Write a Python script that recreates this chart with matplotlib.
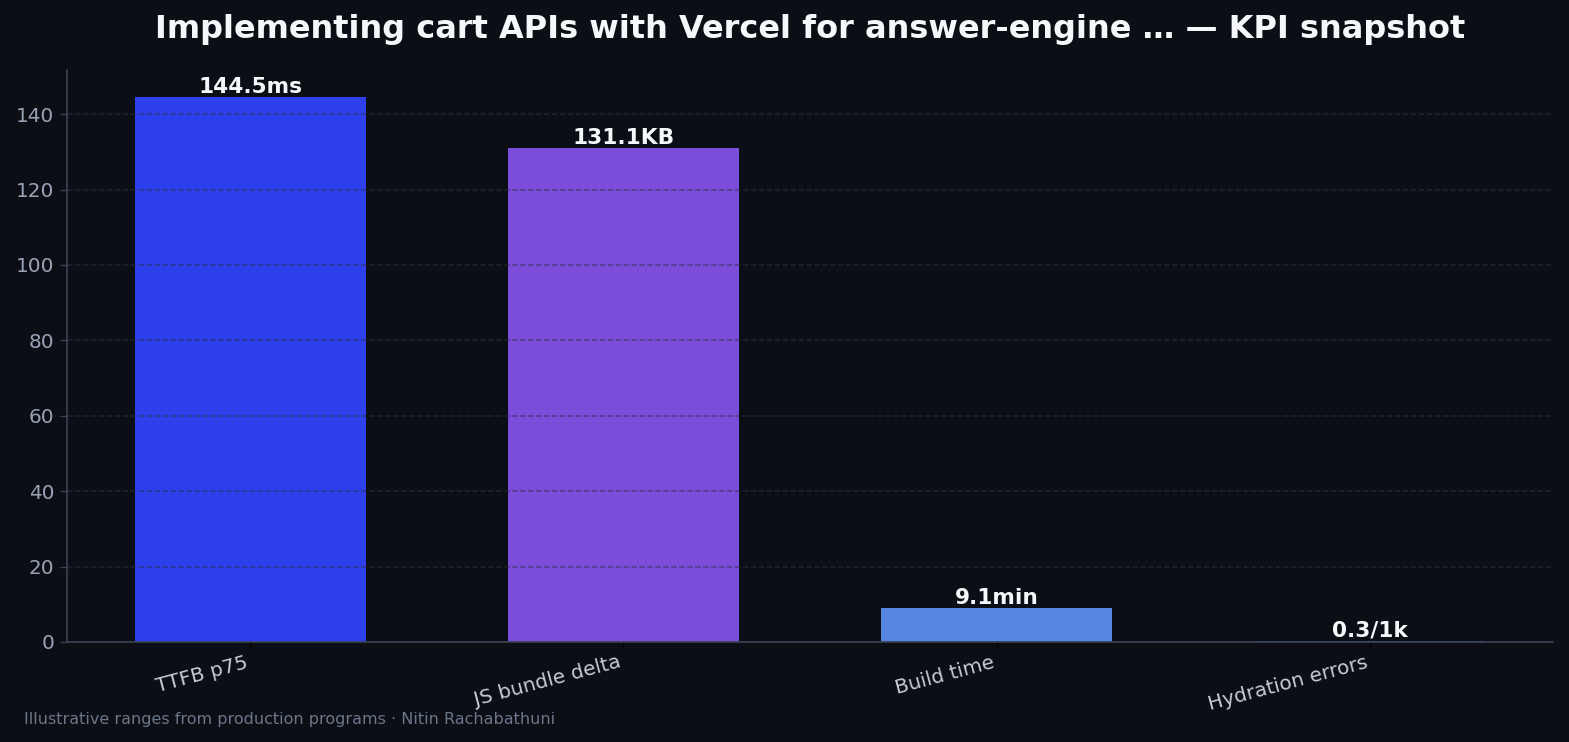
import matplotlib
matplotlib.use("Agg")
import matplotlib.pyplot as plt

plt.rcParams["font.family"] = ["DejaVu Sans"]

categories = ["TTFB p75", "JS bundle delta", "Build time", "Hydration errors"]
values = [144.5, 131.1, 9.1, 0.3]
units = ["ms", "KB", "min", "/1k"]
colors = ["#2e40ec", "#7c4ddb", "#5686e0", "#4f6bd8"]

title = "Implementing cart APIs with Vercel for answer-engine … — KPI snapshot"
footer = "Illustrative ranges from production programs · Nitin Rachabathuni"

bg = "#0b0e14"
dpi = 120

fig = plt.figure(figsize=(1569 / dpi, 742 / dpi), dpi=dpi, facecolor=bg)
ax = fig.add_axes([0.0427, 0.1348, 0.9471, 0.7709], facecolor=bg)

x = range(len(categories))
bars = ax.bar(x, values, width=0.62, color=colors, zorder=2)
ax.set_ylim(0, max(values) * 1.05)

for b, v, u in zip(bars, values, units):
    ax.text(b.get_x() + b.get_width() / 2, v, f"{v:.1f}{u}", ha="center", va="bottom",
            color="#f5f7fa", fontsize=13, fontweight="bold", zorder=4)

ax.grid(axis="y", linestyle="--", color="#2b3242", alpha=0.6, linewidth=0.9, zorder=3)
ax.set_axisbelow(False)

ax.set_xticks(list(x))
ax.set_xticklabels(categories, rotation=15, ha="right", color="#c8ccd6", fontsize=12)
ax.tick_params(axis="x", colors="#000000", labelcolor="#c8ccd6", length=3)
ax.tick_params(axis="y", colors="#3a4456", labelcolor="#9aa3b5", labelsize=12, length=4)

for s in ["top", "right"]:
    ax.spines[s].set_visible(False)
for s in ["left", "bottom"]:
    ax.spines[s].set_color("#3a4456")
    ax.spines[s].set_linewidth(1.0)
    ax.spines[s].set_zorder(5)

ax.set_title(title, color="#f5f7fa", fontsize=19.2, fontweight="bold", pad=19)
fig.text(0.0153, 0.03, footer, color="#6b7689", fontsize=9.6, ha="left", va="center")

fig.savefig("out.png", dpi=dpi, facecolor=bg)
